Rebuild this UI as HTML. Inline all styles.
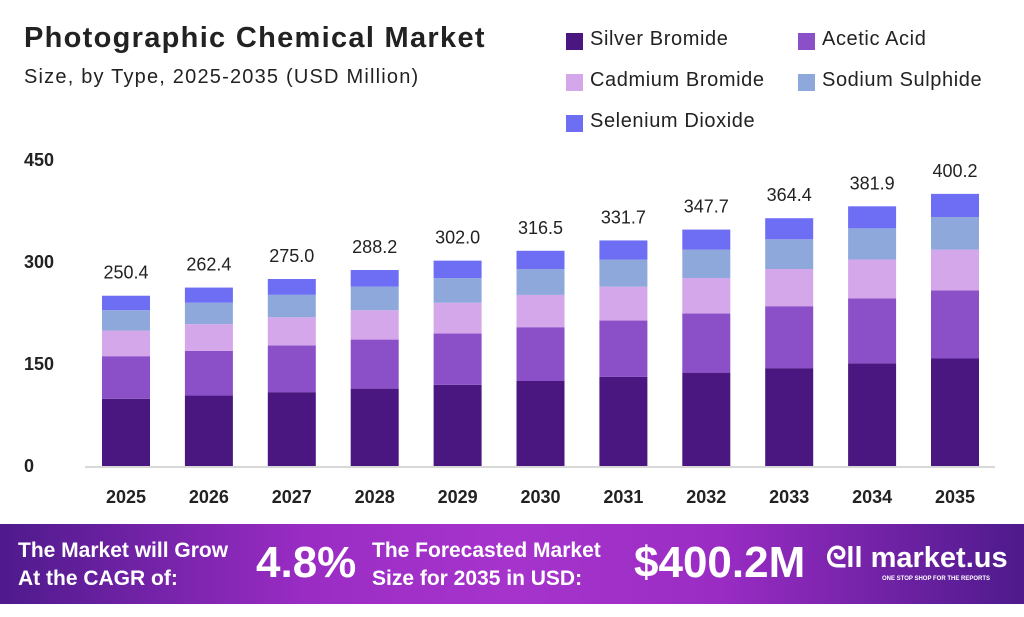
<!DOCTYPE html>
<html><head><meta charset="utf-8"><style>
body{margin:0;width:1024px;height:617px;background:#fff;font-family:"Liberation Sans",sans-serif;overflow:hidden;position:relative}
.t{position:absolute;white-space:nowrap}
.leg{position:absolute;font-size:20px;color:#222;letter-spacing:0.6px}
.sw{position:absolute;width:17px;height:17px}
#footer{position:absolute;left:0;top:524px;width:1024px;height:80px;background:linear-gradient(90deg,#4e1a8c 0%,#9a2cc4 30%,#a634cc 50%,#9a2cc4 70%,#4e1a8c 100%)}
.f{position:absolute;color:#fff;font-weight:bold;white-space:nowrap}
</style></head><body>
<div class="t" style="left:24px;top:22px;font-size:29px;font-weight:bold;color:#222;letter-spacing:1.3px">Photographic Chemical Market</div>
<div class="t" style="left:24px;top:66px;font-size:20px;color:#222;letter-spacing:1.2px">Size, by Type, 2025-2035 (USD Million)</div>
<div>
<div class="sw" style="left:566px;top:33px;background:#4a1780"></div><div class="leg" style="left:590px;top:28px">Silver Bromide</div>
<div class="sw" style="left:798px;top:33px;background:#8b4fc8"></div><div class="leg" style="left:822px;top:28px">Acetic Acid</div>
<div class="sw" style="left:566px;top:74px;background:#d4a6ea"></div><div class="leg" style="left:590px;top:69px">Cadmium Bromide</div>
<div class="sw" style="left:798px;top:74px;background:#8fa8dc"></div><div class="leg" style="left:822px;top:69px">Sodium Sulphide</div>
<div class="sw" style="left:566px;top:115px;background:#6e6ef5"></div><div class="leg" style="left:590px;top:110px">Selenium Dioxide</div>
</div>
<svg id="chart" width="1024" height="524" style="position:absolute;left:0;top:0"></svg>
<div id="footer">
<div class="f" style="left:18px;top:13px;font-size:21px;line-height:28px">The Market will Grow<br>At the CAGR of:</div>
<div class="f" style="left:256px;top:14px;font-size:44px">4.8%</div>
<div class="f" style="left:372px;top:13px;font-size:21px;line-height:28px">The Forecasted Market<br>Size for 2035 in USD:</div>
<div class="f" style="left:634px;top:14px;font-size:44px">$400.2M</div>
<div class="f" style="left:826px;top:18px;font-size:29px">ᘓll market.us</div>
<div class="f" style="left:882px;top:52px;font-size:6px">ONE STOP SHOP FOR THE REPORTS</div>
</div>
<script>
const years=["2025","2026","2027","2028","2029","2030","2031","2032","2033","2034","2035"];
const totals=[250.4,262.4,275.0,288.2,302.0,316.5,331.7,347.7,364.4,381.9,400.2];
const silver=[98.9,103.6,108.6,113.8,119.3,125.0,131.0,137.3,143.9,150.9,158.1];
const acetic=[62.6,65.6,68.8,72.1,75.5,79.1,82.9,86.9,91.1,95.5,100.1];
const cadmium=[37.6,39.4,41.3,43.2,45.3,47.5,49.8,52.2,54.7,57.3,60.0];
const sodium=[30.0,31.5,33.0,34.6,36.2,38.0,39.8,41.7,43.7,45.8,48.0];
const selenium=[21.3,22.3,23.3,24.5,25.7,26.9,28.2,29.6,31.0,32.4,34.0];
const yTicks=[0,150,300,450];
const series=[["silver-bromide",silver,"#4a1780"],["acetic-acid",acetic,"#8b4fc8"],["cadmium-bromide",cadmium,"#d4a6ea"],["sodium-sulphide",sodium,"#8fa8dc"],["selenium-dioxide",selenium,"#6e6ef5"]];
const svg=document.getElementById('chart'),NS="http://www.w3.org/2000/svg";
const y0=466,pxPer=306/450;
const yS=v=>y0-v*pxPer;
const xS=i=>126+i*82.9;
function mk(tag,at){const e=document.createElementNS(NS,tag);for(const k in at)e.setAttribute(k,at[k]);svg.appendChild(e);return e;}
yTicks.forEach(t=>{const e=mk('text',{x:24,y:yS(t)+6,'font-size':18,'font-weight':'bold',fill:'#222'});e.textContent=t;

});
const ax=mk('line',{x1:85,x2:995,y1:467,y2:467,stroke:'#ccc','stroke-width':1.5});


years.forEach((yr,i)=>{let cum=0;
series.forEach(([n,arr,c])=>{const v=arr[i];const r=mk('rect',{x:xS(i)-24,width:48,y:yS(cum+v),height:v*pxPer,fill:c});


cum+=v;});
const l=mk('text',{x:xS(i),y:yS(totals[i])-17,'text-anchor':'middle','font-size':18,fill:'#222'});l.textContent=totals[i].toFixed(1);


const xl=mk('text',{x:xS(i),y:503,'text-anchor':'middle','font-size':18,'font-weight':'bold',fill:'#222'});xl.textContent=yr;


});
</script>
</body></html>
